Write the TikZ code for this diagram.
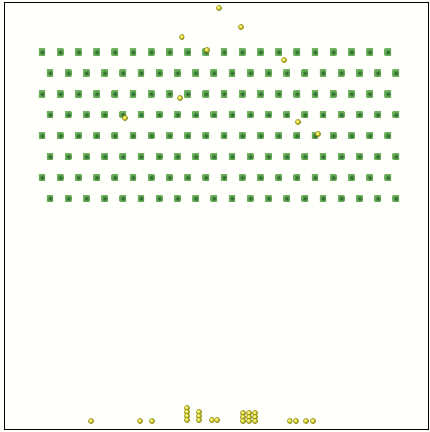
\documentclass[tikz,border=0pt]{standalone}
\usetikzlibrary{shapes.geometric}
\definecolor{bgcream}{HTML}{FFFFFB}
\definecolor{pegdark}{HTML}{1F5A22}
\definecolor{peglight}{HTML}{6FB35F}
\definecolor{ballbase}{HTML}{F2EA1C}
\tikzset{
  pegbox/.style={rectangle, minimum size=6.4pt, inner sep=0pt, outer sep=0pt,
    inner color=pegdark, outer color=peglight},
  ballnode/.style={circle, minimum size=5.8pt, inner sep=0pt, outer sep=0pt,
    ball color=ballbase, shading=ball},
  frame/.style={draw=black, line width=1.4pt}
}
\begin{document}
\begin{tikzpicture}[x=1pt,y=-1pt]
\useasboundingbox (0,0) rectangle (430,432);
\fill[bgcream] (0,0) rectangle (430,432);
\node[frame, rectangle, minimum width=424pt, minimum height=427pt, inner sep=0pt, anchor=north west] (board) at (3.5,1.5) {};
% pegs
\foreach \r in {0,...,7}{
  \pgfmathsetmacro{\yy}{52+\r*20.9}
  \pgfmathsetmacro{\xo}{ifthenelse(mod(\r,2)==0,42,50)}
  \foreach \c in {0,...,19}{
    \node[pegbox] (peg-\r-\c) at ({\xo+\c*18.2},\yy) {};
  }
}
% falling balls
\foreach \x/\y [count=\i] in {219/8,241/27,182/37,207/50,284/60,180/98,125/118,298/122,318/134}{
  \node[ballnode] (fall-\i) at (\x,\y) {};
}
% collected balls
\foreach \x/\y [count=\i] in {91/421,140/421,152/421,
  187/408,187/412,187/416,187/420,
  199/412,199/416,199/420,
  212/420,217/420,
  243/413,249/413,255/413,243/417,249/417,255/417,243/421,249/421,255/421,
  290/421,296/421,306/421,313/421}{
  \node[ballnode] (bin-\i) at (\x,\y) {};
}
\end{tikzpicture}
\end{document}
